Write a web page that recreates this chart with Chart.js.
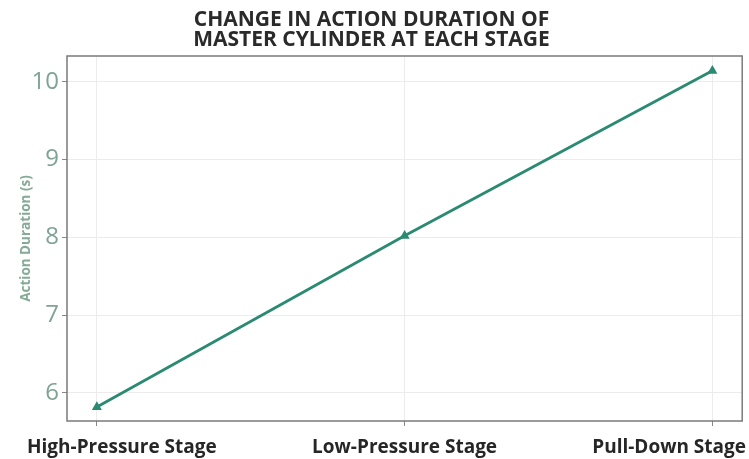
<!DOCTYPE html>
<html>
<head>
<meta charset="utf-8">
<script src="https://cdn.jsdelivr.net/npm/chart.js@4"></script>
<style>
  html, body { margin: 0; padding: 0; background: #fff; }
  #wrap { width: 749px; height: 459px; }
</style>
</head>
<body>
<div id="wrap"><canvas id="durationChart"></canvas></div>
<script>
// chart data
const stages = ['High-Pressure Stage', 'Low-Pressure Stage', 'Pull-Down Stage'];
const durations = [5.82, 8.02, 10.14];
const yTicks = [6, 7, 8, 9, 10];
const titleLines = ['CHANGE IN ACTION DURATION OF', 'MASTER CYLINDER AT EACH STAGE'];

const lineColor = '#2b8a72';
const labelFont = '"Open Sans", sans-serif';

// frame around plot + category labels kept inside the canvas
const framePlugin = {
    id: 'frame',
    afterDraw(chart) {
        const ctx = chart.ctx;
        const a = chart.chartArea;
        ctx.save();
        ctx.strokeStyle = '#7a7a7a';
        ctx.lineWidth = 1.5;
        ctx.strokeRect(a.left, a.top, a.right - a.left, a.bottom - a.top);

        const xs = chart.scales.x;
        ctx.font = 'bold 19px ' + labelFont;
        ctx.fillStyle = '#262626';
        ctx.textBaseline = 'middle';
        ctx.textAlign = 'center';
        stages.forEach(function(label, i) {
            const w = ctx.measureText(label).width;
            let x = xs.getPixelForValue(i);
            x = Math.max(x, w / 2 + 27);
            x = Math.min(x, chart.width - w / 2 - 3);
            ctx.fillText(label, x, 448);
        });
        ctx.restore();
    }
};

const ctx = document.getElementById('durationChart').getContext('2d');

new Chart(ctx, {
    type: 'line',
    data: {
        datasets: [{
            data: durations.map((v, i) => ({ x: i, y: v })),
            borderColor: lineColor,
            backgroundColor: lineColor,
            borderWidth: 2.8,
            pointStyle: 'triangle',
            pointRadius: 3,
            tension: 0,
            fill: false
        }]
    },
    options: {
        responsive: true,
        maintainAspectRatio: false,
        animation: false,
        layout: { padding: { top: 0, right: 6, bottom: 33, left: 0 } },
        plugins: {
            legend: { display: false },
            tooltip: { enabled: false },
            title: {
                display: true,
                text: titleLines,
                color: '#2a2a2a',
                font: { family: labelFont, size: 21, weight: 'bold', lineHeight: '20px' },
                padding: { top: 10, bottom: 6 }
            }
        },
        scales: {
            x: {
                type: 'linear',
                min: -0.097,
                max: 2.097,
                border: { display: false },
                grid: { color: '#ececec', tickLength: 5, tickColor: '#888' },
                afterBuildTicks: function(axis) {
                    axis.ticks = stages.map((s, i) => ({ value: i }));
                },
                ticks: { display: false }
            },
            y: {
                min: 5.64,
                max: 10.33,
                border: { display: false },
                grid: { color: '#ececec', tickLength: 5, tickColor: '#888' },
                afterBuildTicks: function(axis) {
                    axis.ticks = yTicks.map(v => ({ value: v }));
                },
                afterFit: function(axis) { axis.width = 67; },
                ticks: {
                    color: '#7fa394',
                    font: { family: labelFont, size: 24 },
                    padding: 3
                },
                title: {
                    display: true,
                    text: 'Action Duration (s)',
                    color: '#86aa98',
                    font: { family: labelFont, size: 13.5, weight: 'bold' },
                    padding: { top: 18, bottom: 0 }
                }
            }
        }
    },
    plugins: [framePlugin]
});
</script>
</body>
</html>
